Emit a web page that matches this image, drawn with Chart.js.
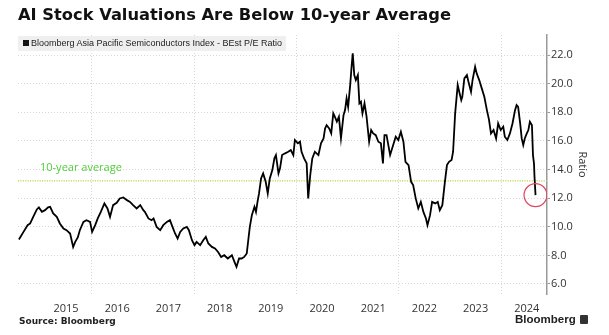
<!DOCTYPE html>
<html>
<head>
<meta charset="utf-8">
<script src="https://cdn.jsdelivr.net/npm/chart.js@4.4.1/dist/chart.umd.min.js"></script>
<style>
    html, body { margin: 0; padding: 0; background: #fff; }
    body { width: 609px; height: 335px; position: relative; overflow: hidden; font-family: 'Open Sans', sans-serif; }
    #chart-wrap { position: absolute; left: 0; top: 0; width: 609px; height: 335px; }
    #title { position: absolute; left: 18px; top: 5px; font: bold 16.3px 'DejaVu Sans', sans-serif; color: #111; white-space: nowrap; z-index: 2; }
    #legend { position: absolute; left: 18px; top: 36px; height: 15px; padding-right: 4px; background: rgba(236,236,236,0.85);
              font: 9px 'Liberation Sans Narrow', 'Liberation Sans', sans-serif; color: #222; line-height: 15px; white-space: nowrap; z-index: 2; }
    #legend .box { display: inline-block; width: 6px; height: 6px; background: #111; margin: 0 2px 0 5px; vertical-align: 0px; }
    #avg-label { position: absolute; left: 40px; top: 160px; font: 11px 'Open Sans', sans-serif; color: #4fcf3a; white-space: nowrap; z-index: 2; }
    #source { position: absolute; left: 19px; top: 316px; font: bold 9px 'DejaVu Sans', sans-serif; color: #222; z-index: 2; }
    #brand { position: absolute; left: 515px; top: 313px; font: bold 11.5px 'Liberation Sans', sans-serif; color: #222; z-index: 2; white-space: nowrap; }
    #brand .icon { display: inline-block; width: 8px; height: 9px; background: #333; border-radius: 1px; margin-left: 4px; vertical-align: -1px; }
</style>
</head>
<body>
<div id="title">AI Stock Valuations Are Below 10-year Average</div>
<div id="legend"><span class="box"></span>Bloomberg Asia Pacific Semiconductors Index - BEst P/E Ratio</div>
<div id="avg-label">10-year average</div>
<div id="chart-wrap"><canvas id="peChart"></canvas></div>
<div id="source">Source: Bloomberg</div>
<div id="brand">Bloomberg<span class="icon"></span></div>
<script>
// dates as decimal years
const years = [
    2014.58, 2014.67, 2014.75, 2014.80, 2014.86, 2014.93, 2014.97, 2015.03, 2015.09, 2015.15,
    2015.19, 2015.25, 2015.32, 2015.38, 2015.45, 2015.51, 2015.58, 2015.64, 2015.68, 2015.73,
    2015.77, 2015.84, 2015.90, 2015.97, 2016.01, 2016.07, 2016.12, 2016.18, 2016.25, 2016.31,
    2016.36, 2016.42, 2016.49, 2016.55, 2016.62, 2016.69, 2016.75, 2016.81, 2016.88, 2016.95,
    2017.01, 2017.04, 2017.11, 2017.17, 2017.21, 2017.27, 2017.34, 2017.40, 2017.47, 2017.53,
    2017.58, 2017.63, 2017.68, 2017.73, 2017.79, 2017.86, 2017.90, 2017.96, 2018.01, 2018.05,
    2018.12, 2018.18, 2018.23, 2018.28, 2018.35, 2018.41, 2018.47, 2018.53, 2018.59, 2018.66,
    2018.74, 2018.79, 2018.83, 2018.88, 2018.93, 2018.98, 2019.03, 2019.06, 2019.09, 2019.13,
    2019.18, 2019.21, 2019.24, 2019.27, 2019.31, 2019.35, 2019.40, 2019.44, 2019.48, 2019.53,
    2019.57, 2019.60, 2019.65, 2019.68, 2019.72, 2019.78, 2019.84, 2019.89, 2019.94, 2019.97,
    2020.03, 2020.07, 2020.10, 2020.15, 2020.20, 2020.23, 2020.27, 2020.31, 2020.36, 2020.43,
    2020.48, 2020.53, 2020.56, 2020.59, 2020.64, 2020.68, 2020.72, 2020.75, 2020.79, 2020.83,
    2020.87, 2020.92, 2020.95, 2020.98, 2021.01, 2021.05, 2021.08, 2021.10, 2021.13, 2021.16,
    2021.20, 2021.23, 2021.26, 2021.29, 2021.33, 2021.37, 2021.42, 2021.46, 2021.50, 2021.55,
    2021.60, 2021.65, 2021.69, 2021.72, 2021.76, 2021.83, 2021.89, 2021.94, 2021.99, 2022.04,
    2022.09, 2022.13, 2022.19, 2022.24, 2022.28, 2022.33, 2022.38, 2022.43, 2022.48, 2022.53,
    2022.56, 2022.61, 2022.65, 2022.71, 2022.76, 2022.80, 2022.85, 2022.90, 2022.94, 2022.98,
    2023.03, 2023.06, 2023.10, 2023.15, 2023.18, 2023.22, 2023.24, 2023.28, 2023.33, 2023.36,
    2023.41, 2023.44, 2023.49, 2023.52, 2023.57, 2023.62, 2023.67, 2023.72, 2023.76, 2023.80,
    2023.85, 2023.90, 2023.94, 2023.99, 2024.04, 2024.07, 2024.12, 2024.17, 2024.22, 2024.27,
    2024.30, 2024.33, 2024.37, 2024.40, 2024.43, 2024.46, 2024.50, 2024.53, 2024.56, 2024.60,
    2024.62, 2024.64, 2024.65, 2024.67
];
const peRatio = [
    9.11, 9.64, 10.11, 10.23, 10.69, 11.21, 11.35, 11.04, 11.16, 11.35,
    11.39, 10.93, 10.69, 10.23, 9.88, 9.76, 9.53, 8.59, 8.94, 9.25,
    9.76, 10.34, 10.46, 10.34, 9.64, 10.11, 10.58, 11.04, 11.63, 11.28,
    10.69, 11.51, 11.67, 11.98, 12.05, 11.86, 11.74, 11.51, 11.28, 11.51,
    11.16, 11.04, 10.58, 10.46, 10.58, 9.99, 9.76, 10.11, 10.34, 10.46,
    9.99, 9.53, 9.18, 9.64, 9.88, 9.99, 9.76, 9.06, 8.71, 8.94,
    8.71, 9.06, 9.29, 8.83, 8.59, 8.48, 8.24, 7.89, 8.01, 7.78,
    8.01, 7.55, 7.20, 7.78, 7.78, 7.89, 8.13, 9.06, 9.99, 10.81,
    11.39, 11.04, 11.74, 12.33, 13.38, 13.73, 13.14, 12.33, 13.38, 13.96,
    14.78, 15.01, 13.73, 14.08, 15.01, 15.13, 15.24, 15.36, 15.01, 16.06,
    15.83, 15.94, 15.24, 14.78, 14.43, 11.98, 13.61, 14.78, 15.24, 15.01,
    15.83, 16.17, 16.87, 17.10, 16.87, 16.52, 17.92, 17.69, 17.34, 17.69,
    16.17, 17.80, 18.15, 18.97, 18.38, 19.90, 21.30, 22.12, 20.60, 20.25,
    20.60, 18.62, 18.73, 17.92, 18.62, 17.69, 15.94, 16.76, 16.52, 16.40,
    15.94, 15.83, 14.43, 16.40, 16.40, 15.01, 15.71, 16.29, 16.06, 16.64,
    15.94, 14.54, 14.31, 13.14, 12.91, 11.98, 11.28, 11.74, 11.04, 10.58,
    10.11, 10.81, 11.74, 11.63, 11.74, 11.16, 11.51, 13.14, 14.31, 14.54,
    14.66, 15.24, 17.92, 19.90, 19.43, 18.85, 19.08, 20.37, 20.60, 20.13,
    19.43, 20.25, 21.18, 20.72, 20.25, 19.67, 19.08, 18.15, 17.50, 16.52,
    16.76, 16.17, 17.22, 16.76, 16.99, 16.29, 16.06, 16.52, 17.22, 18.15,
    18.50, 18.38, 17.22, 16.17, 15.71, 16.17, 16.52, 16.76, 17.34, 17.10,
    15.01, 14.43, 13.49, 12.21
];
const yearLabels = [2015, 2016, 2017, 2018, 2019, 2020, 2021, 2022, 2023, 2024];
const gridYears = [2016, 2018, 2020, 2022, 2024];
const ratioTicks = [6, 7, 8, 9, 10, 11, 12, 13, 14, 15, 16, 17, 18, 19, 20, 21, 22, 23];
const tenYearAverage = 13.2;

const lastIndex = peRatio.length - 1;

// dotted 10-year average line, label placed from the y scale
const averageLine = {
    id: 'averageLine',
    beforeDatasetsDraw(chart) {
        const { ctx, chartArea, scales } = chart;
        const y = scales.y.getPixelForValue(tenYearAverage);
        ctx.save();
        ctx.strokeStyle = '#b9d84c';
        ctx.lineWidth = 1.2;
        ctx.setLineDash([1.2, 1.2]);
        ctx.beginPath();
        ctx.moveTo(chartArea.left, y);
        ctx.lineTo(chartArea.right, y);
        ctx.stroke();
        ctx.restore();
        const label = document.getElementById('avg-label');
        label.style.top = (y - 22) + 'px';
        label.style.left = (chartArea.left + 22) + 'px';
    }
};

const ctx = document.getElementById('peChart').getContext('2d');

new Chart(ctx, {
    type: 'line',
    data: {
        datasets: [{
            label: 'Bloomberg Asia Pacific Semiconductors Index - BEst P/E Ratio',
            data: years.map((x, i) => ({ x: x, y: peRatio[i] })),
            borderColor: '#000',
            borderWidth: 1.8,
            tension: 0,
            fill: false,
            pointRadius: c => c.dataIndex === lastIndex ? 11.5 : 0,
            pointHoverRadius: 0,
            pointBorderColor: '#e0455f',
            pointBackgroundColor: 'rgba(0,0,0,0)',
            pointBorderWidth: 1.2
        }]
    },
    options: {
        responsive: true,
        maintainAspectRatio: false,
        animation: false,
        layout: {
            padding: { left: 18, top: 35, right: 20, bottom: 21 }
        },
        plugins: {
            legend: { display: false },
            tooltip: { enabled: false }
        },
        scales: {
            x: {
                type: 'linear',
                min: 2014.5625,
                max: 2024.894,
                afterBuildTicks: scale => {
                    const vals = gridYears.concat(yearLabels.map(y => y + 0.5)).sort((a, b) => a - b);
                    scale.ticks = vals.map(v => ({ value: v }));
                },
                afterFit: scale => { scale.height = 20; },
                ticks: {
                    autoSkip: false,
                    maxRotation: 0,
                    padding: 8,
                    color: '#333',
                    font: { family: 'Open Sans', size: 11 },
                    callback: v => Number.isInteger(v) ? '' : String(Math.floor(v))
                },
                grid: {
                    drawTicks: false,
                    color: c => (c.tick && Number.isInteger(c.tick.value)) ? '#d6d6d6' : 'rgba(0,0,0,0)',
                    lineWidth: 1
                },
                border: { display: false, dash: [1, 2] }
            },
            y: {
                position: 'right',
                min: 5.3,
                max: 23.4,
                afterBuildTicks: scale => {
                    scale.ticks = ratioTicks.map(v => ({ value: v }));
                },
                afterFit: scale => { scale.width = 42; },
                ticks: {
                    padding: 1,
                    color: '#333',
                    font: { family: 'Open Sans', size: 11 },
                    callback: v => v % 2 === 0 ? v.toFixed(1) : ''
                },
                grid: {
                    color: c => (c.tick && c.tick.value % 2 === 0) ? '#d6d6d6' : 'rgba(0,0,0,0)',
                    tickColor: '#999',
                    tickLength: 3,
                    lineWidth: 1
                },
                border: { display: true, color: '#999', width: 1.5, dash: [1, 2] },
                title: {
                    display: true,
                    text: 'Ratio',
                    color: '#333',
                    font: { family: 'Open Sans', size: 11 },
                    padding: { top: 0, bottom: 4 }
                }
            }
        }
    },
    plugins: [averageLine]
});
</script>
</body>
</html>
